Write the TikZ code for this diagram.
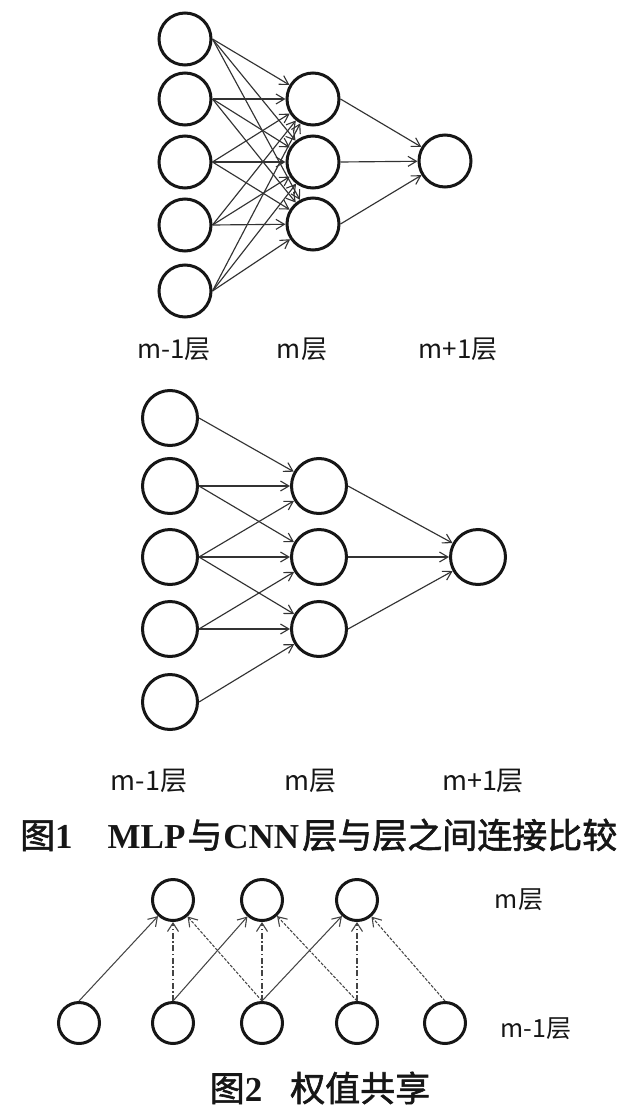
\documentclass[tikz,border=0pt]{standalone}
\usepackage{fontspec}
\usetikzlibrary{arrows.meta}
\newfontfamily\cjk{Noto Sans CJK SC}
\newfontfamily\cjkm[FakeBold=1.6]{Noto Sans CJK SC}
\newfontfamily\tnr{Liberation Serif}
\definecolor{ink}{HTML}{161616}
\definecolor{edge}{HTML}{333333}
\definecolor{edgeb}{HTML}{444444}
\begin{document}
\begin{tikzpicture}[x=1pt,y=-1pt,
  neuron/.style={circle,draw=ink,line width=3pt,inner sep=0pt,minimum size=#1},
  conn/.style={draw=edge,line width=1.15pt,-{Straight Barb[length=8.5pt,width=10pt,line width=1.1pt]}},
  connb/.style={draw=edgeb,line width=1.05pt,-{Straight Barb[length=8.5pt,width=11pt,line width=1.1pt]}},
  lbl/.style={font=\cjk\fontsize{#1}{#1}\selectfont,text=ink,inner sep=0pt},
  captxt/.style={font=\fontsize{35}{36}\selectfont,text=ink,inner sep=0pt},
]
\useasboundingbox (0,0) rectangle (631,1116);

% ---------- Figure 1 top: MLP ----------
\foreach \n/\y in {1/39,2/99,3/162,4/225,5/291}
  \node[neuron=52pt] (a\n) at (185,\y) {};
\foreach \n/\y in {1/99,2/162,3/224}
  \node[neuron=52pt] (b\n) at (313,\y) {};
\node[neuron=52pt] (c) at (445,161) {};
\foreach \i in {1,...,5}
  \foreach \j in {1,2,3}
    \draw[conn] (a\i.east) -- (b\j);
\foreach \j in {1,2,3}
  \draw[conn] (b\j.east) -- (c);
\node[lbl=26] (la1) at (174,349) {m-1层};
\node[lbl=26] (la2) at (302,349) {m层};
\node[lbl=26] (la3) at (458,349) {m+1层};

% ---------- Figure 1 bottom: CNN ----------
\foreach \n/\y in {1/418,2/486,3/557,4/629,5/702}
  \node[neuron=55pt] (p\n) at (170,\y) {};
\foreach \n/\y in {1/486,2/557,3/629}
  \node[neuron=55pt] (q\n) at (319,\y) {};
\node[neuron=55pt] (r) at (478,557) {};
\foreach \i/\j in {1/1,2/1,2/2,3/1,3/2,3/3,4/2,4/3,5/3}
  \draw[conn] (p\i.east) -- (q\j);
\foreach \j in {1,2,3}
  \draw[conn] (q\j.east) -- (r);
\node[lbl=27] (lb1) at (149,781) {m-1层};
\node[lbl=27] (lb2) at (310,781) {m层};
\node[lbl=27] (lb3) at (483,781) {m+1层};

% ---------- Caption 1 ----------
\node[captxt,anchor=west] (cap1) at (20,835)
  {{\cjkm 图}{\tnr\bfseries 1}\hspace{1em}{\tnr\bfseries MLP}\hspace{2pt}{\cjkm 与}\hspace{1pt}{\tnr\bfseries CNN}\hspace{3pt}{\cjkm 层与层之间连接比较}};

% ---------- Figure 2: weight sharing ----------
\foreach \n/\x in {1/173,2/262,3/357}
  \node[neuron=41pt] (t\n) at (\x,900) {};
\foreach \n/\x in {1/79,2/173,3/262,4/357,5/445}
  \node[neuron=41pt] (s\n) at (\x,1023) {};
\foreach \i in {1,2,3}{
  \pgfmathtruncatemacro\k{\i+1}
  \pgfmathtruncatemacro\l{\i+2}
  \draw[connb] (s\i.north) -- (t\i);
  \draw[connb,dash pattern=on 6pt off 2.5pt on 1.5pt off 2.5pt] (s\k.north) -- (t\i);
  \draw[connb,dash pattern=on 3pt off 1.5pt] (s\l.north) -- (t\i);
}
\node[lbl=25] (lc1) at (519,900) {m层};
\node[lbl=25] (lc2) at (536,1029) {m-1层};

% ---------- Caption 2 ----------
\node[captxt] (cap2) at (320,1088)
  {{\cjkm 图}{\tnr\bfseries 2}\hspace{0.8em}{\cjkm 权值共享}};
\end{tikzpicture}
\end{document}
